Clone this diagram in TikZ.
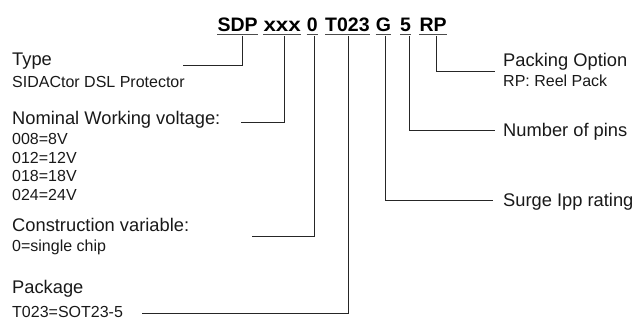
\documentclass[tikz,border=0pt]{standalone}
\usepackage{fontspec}
\setmainfont{Liberation Sans}
\begin{document}
\begin{tikzpicture}[x=1pt,y=-1pt,
  seg/.style={font=\bfseries\fontsize{19.5}{21}\selectfont, inner sep=0pt, anchor=base west, text=black},
  big/.style={font=\fontsize{18.3}{20}\selectfont, inner sep=0pt, anchor=base west, text=black!90},
  small/.style={font=\fontsize{16}{18}\selectfont, inner sep=0pt, anchor=base west, text=black!90},
  conn/.style={line width=0.8pt, draw=black!85},
  uline/.style={line width=1.1pt, draw=black!70}]
\useasboundingbox (0,0) rectangle (638,320);

% part number segments
\node[seg] (sdp)  at (217.3,31.7) {SDP};
\node[seg] (xxx)  at (263.3,31.7) {\scalebox{1.15}[1]{xxx}};
\node[seg] (zero) at (306.7,31.7) {0};
\node[seg] (t023) at (325,31.7)   {T023};
\node[seg] (g)    at (375.7,31.7) {G};
\node[seg] (five) at (400,31.7)   {5};
\node[seg] (rp)   at (419.3,31.7) {RP};

\foreach \n in {sdp,xxx,zero,t023,g,five,rp}
  \draw[uline] ([yshift=-2.6pt]\n.base west) -- ([yshift=-2.6pt]\n.base east);

% left labels
\node[big]   (type)   at (12,66)    {Type};
\node[small] (typed)  at (12,87.5)  {SIDACtor DSL Protector};
\node[big]   (nom)    at (12,125)   {Nominal Working voltage:};
\node[small] (v1)     at (12,145)   {008=8V};
\node[small] (v2)     at (12,163.5) {012=12V};
\node[small] (v3)     at (12,182)   {018=18V};
\node[small] (v4)     at (12,200.5) {024=24V};
\node[big]   (cons)   at (12,232)   {Construction variable:};
\node[small] (consd)  at (12,252)   {0=single chip};
\node[big]   (pkg)    at (12,293.5) {Package};
\node[small] (pkgd)   at (12,318)   {T023=SOT23-5};

% right labels
\node[big]   (pack)   at (503,66.7)  {Packing Option};
\node[small] (packd)  at (503,86.7)  {RP: Reel Pack};
\node[big]   (pins)   at (503,136.5) {Number of pins};
\node[big]   (surge)  at (503,206.5) {Surge Ipp rating};

% tick tops
\coordinate (sdpT)  at (242.7,36);
\coordinate (xxxT)  at (284,36);
\coordinate (zeroT) at (314,36);
\coordinate (t023T) at (348.3,36);
\coordinate (gT)    at (385,36);
\coordinate (fiveT) at (409.3,36);
\coordinate (rpT)   at (436.7,36);

% line ends
\coordinate (typeE)  at (183,65);
\coordinate (nomE)   at (241,122);
\coordinate (consE)  at (252,236);
\coordinate (pkgE)   at (142,313.3);
\coordinate (surgeE) at (493,200);
\coordinate (pinsE)  at (495,130);
\coordinate (packE)  at (495,71.7);

\draw[conn] (sdpT)  |- (typeE);
\draw[conn] (xxxT)  |- (nomE);
\draw[conn] (zeroT) |- (consE);
\draw[conn] (t023T) |- (pkgE);
\draw[conn] (gT)    |- (surgeE);
\draw[conn] (fiveT) |- (pinsE);
\draw[conn] (rpT)   |- (packE);
\end{tikzpicture}
\end{document}
